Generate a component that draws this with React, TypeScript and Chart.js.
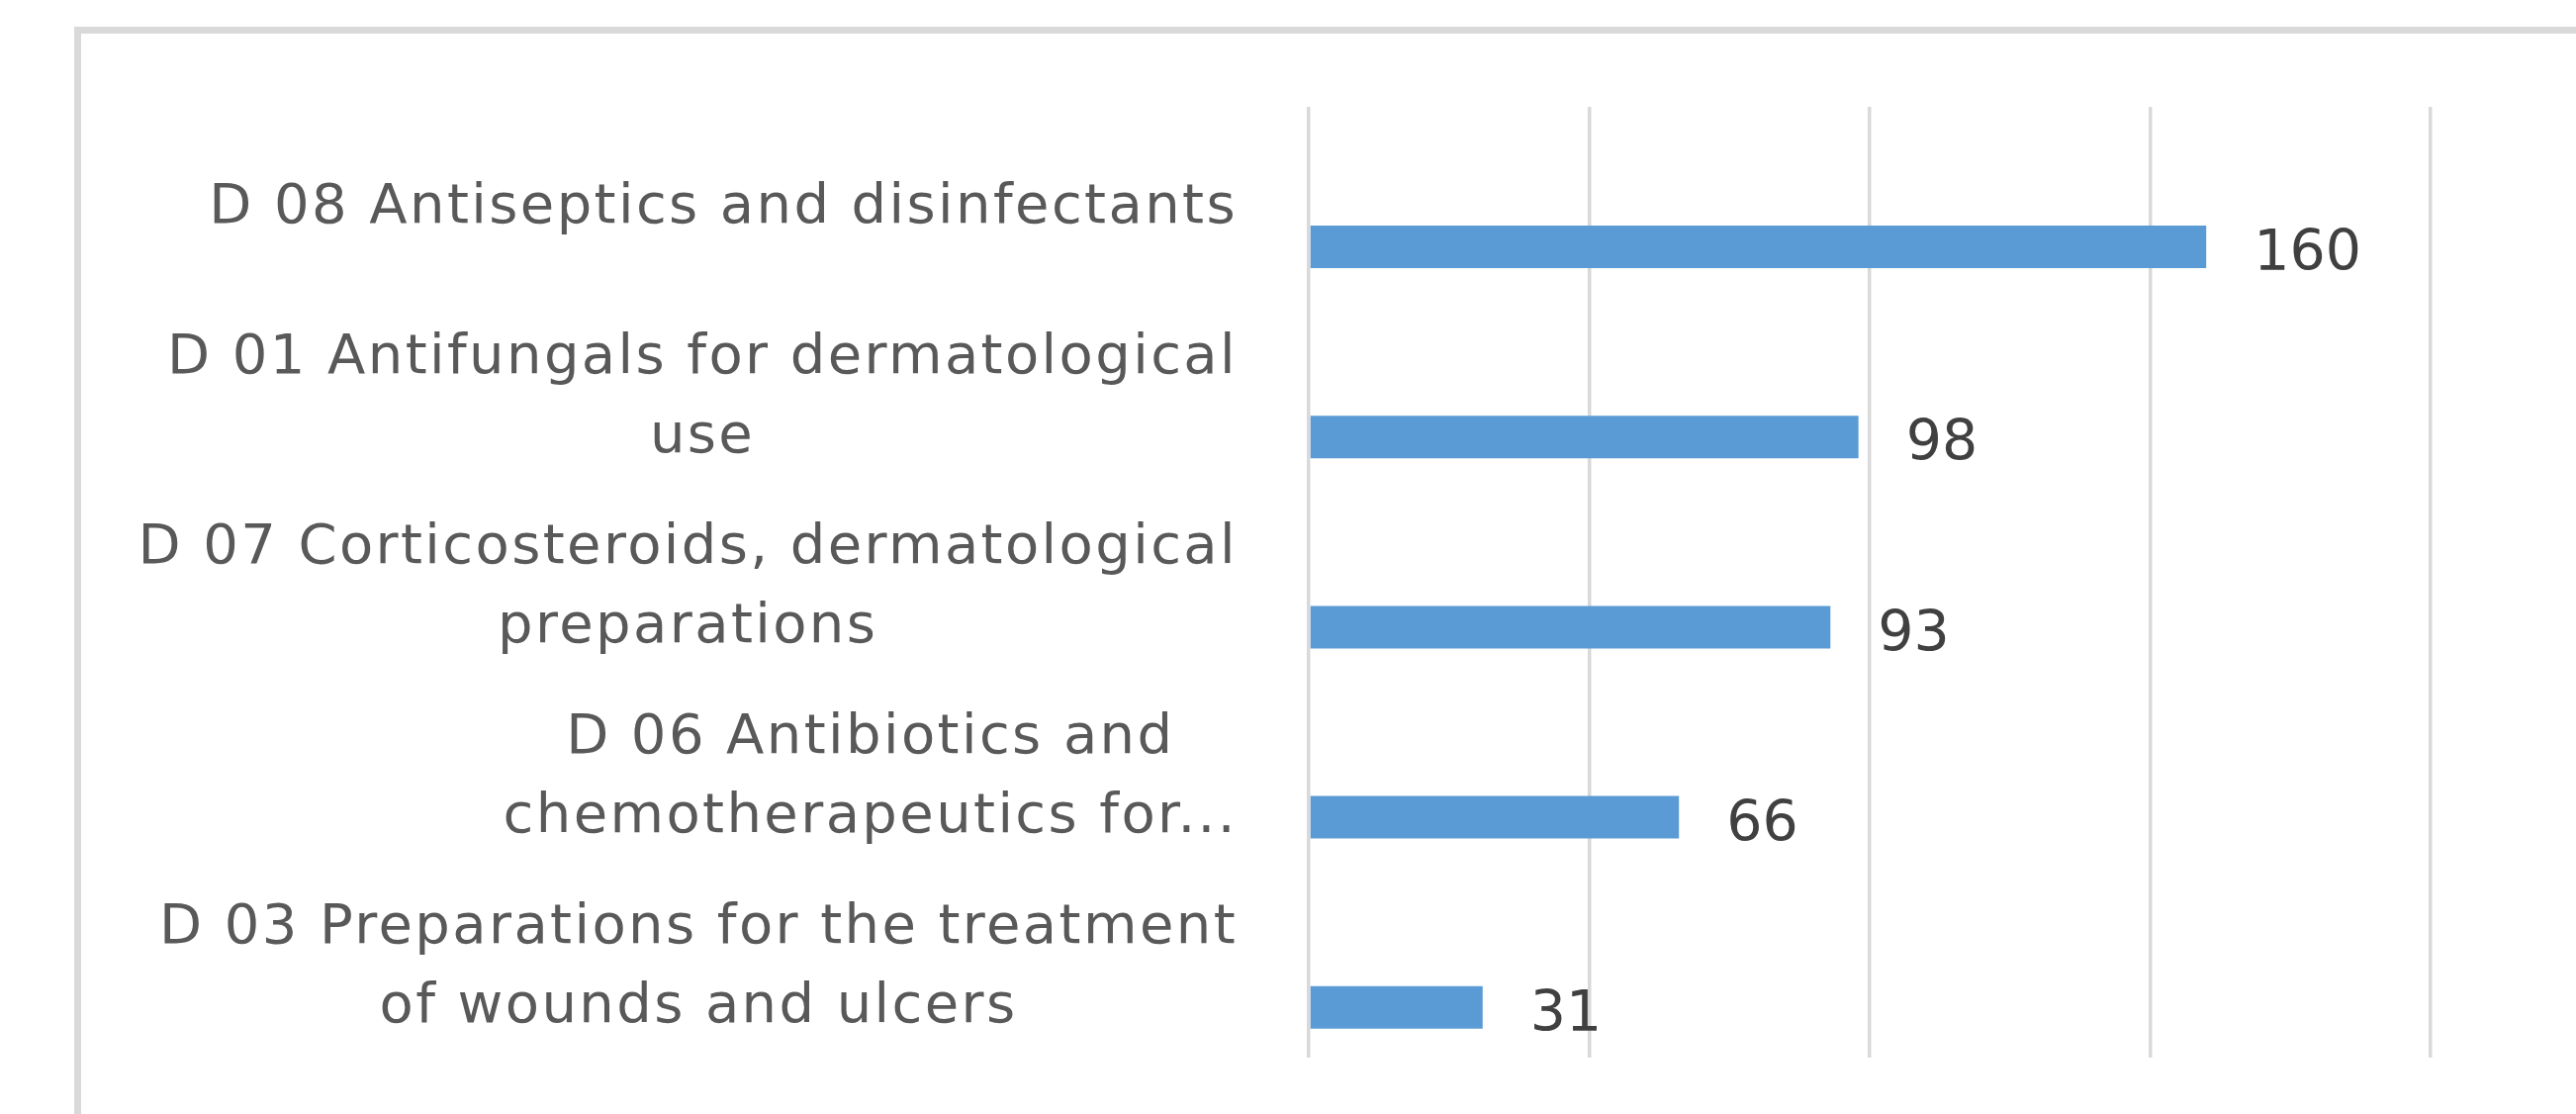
import React, { useEffect, useRef } from "react";
import { Chart, registerables } from "chart.js";

Chart.register(...registerables);

// ---- data ----
const categories: (string | string[])[] = [
  "D 08 Antiseptics and disinfectants",
  ["D 01 Antifungals for dermatological", "use"],
  ["D 07 Corticosteroids, dermatological", "preparations"],
  ["D 06 Antibiotics and", "chemotherapeutics for..."],
  ["D 03 Preparations for the treatment", "of wounds and ulcers"],
];
const values = [160, 98, 93, 66, 31];
const emptySeries = [null, null, null, null, null];
const xMin = 0;
const xMax = 200;
const xStep = 50;

// ---- styles ----
const BAR_COLOR = "#5b9bd5";
const GRID_COLOR = "#d9d9d9";
const LABEL_COLOR = "#595959";
const VALUE_COLOR = "#404040";
const LABEL_FONT_SIZE = 56;
const LABEL_FONT = `${LABEL_FONT_SIZE}px "DejaVu Sans"`;
const LABEL_CAP = 0.729;
const LABEL_LETTER_SPACING = "2.4px";
const LABEL_LINE_HEIGHT = 80;
const LABEL_GAP = 72;
const VALUE_FONT_SIZE = 57;
const VALUE_FONT = `${VALUE_FONT_SIZE}px "DejaVu Sans"`;
const VALUE_CAP = 0.729;
const VALUE_GAP = 48;

const categoryLabelPlugin = {
  id: "categoryLabels",
  afterDraw(chart: any) {
    const ctx = chart.ctx as CanvasRenderingContext2D;
    const yScale = chart.scales.y;
    const right = chart.chartArea.left - LABEL_GAP;
    ctx.save();
    ctx.font = LABEL_FONT;
    (ctx as any).letterSpacing = LABEL_LETTER_SPACING;
    ctx.fillStyle = LABEL_COLOR;
    ctx.textAlign = "center";
    ctx.textBaseline = "alphabetic";
    const labels = chart.data.labels as (string | string[])[];
    labels.forEach((lab, i) => {
      const lines = Array.isArray(lab) ? lab : [lab];
      const widths = lines.map((l) => ctx.measureText(l).width);
      const blockW = Math.max(...widths);
      const cx = right - blockW / 2;
      const yc = yScale.getPixelForTick(i);
      const n = lines.length;
      const cap = LABEL_FONT_SIZE * LABEL_CAP;
      lines.forEach((l, k) => {
        const offset = (k - (n - 1) / 2) * LABEL_LINE_HEIGHT;
        ctx.fillText(l, cx, yc + offset + cap / 2);
      });
    });
    ctx.restore();
  },
};

const valueLabelPlugin = {
  id: "valueLabels",
  afterDatasetsDraw(chart: any) {
    const ctx = chart.ctx as CanvasRenderingContext2D;
    const meta = chart.getDatasetMeta(1);
    const data = chart.data.datasets[1].data;
    ctx.save();
    ctx.font = VALUE_FONT;
    ctx.fillStyle = VALUE_COLOR;
    ctx.textAlign = "left";
    ctx.textBaseline = "alphabetic";
    const cap = VALUE_FONT_SIZE * VALUE_CAP;
    meta.data.forEach((bar: any, i: number) => {
      ctx.fillText(String(data[i]), bar.x + VALUE_GAP, bar.y + 3 + cap / 2);
    });
    ctx.restore();
  },
};

export default function App() {
  const ref = useRef<HTMLCanvasElement | null>(null);

  useEffect(() => {
    if (!ref.current) return;
    const chart = new Chart(ref.current, {
      type: "bar",
      data: {
        labels: categories as any,
        datasets: [
          {
            label: "",
            data: emptySeries as any,
            backgroundColor: BAR_COLOR,
          },
          {
            label: "Count",
            data: values,
            backgroundColor: BAR_COLOR,
            borderWidth: 0,
          },
        ],
      },
      options: {
        indexAxis: "y",
        responsive: false,
        animation: false,
        devicePixelRatio: 1,
        categoryPercentage: 0.945,
        barPercentage: 0.4735,
        layout: {
          padding: { left: 1323, right: 147, top: 108, bottom: 57 },
        },
        plugins: {
          legend: { display: false },
          tooltip: { enabled: false },
          title: { display: false },
        },
        scales: {
          x: {
            type: "linear",
            min: xMin,
            max: xMax,
            ticks: { display: false, stepSize: xStep },
            grid: {
              color: GRID_COLOR,
              lineWidth: 3.5,
              drawTicks: false,
            },
            border: { display: false },
          },
          y: {
            type: "category",
            display: false,
            offset: true,
            grid: { display: false },
          },
        },
      } as any,
      plugins: [categoryLabelPlugin, valueLabelPlugin],
    });
    return () => chart.destroy();
  }, []);

  return (
    <div
      style={{
        position: "fixed",
        left: 0,
        top: 0,
        width: 2604,
        height: 1126,
        background: "#ffffff",
        overflow: "hidden",
      }}
    >
      <div
        style={{
          position: "absolute",
          left: 75,
          top: 27,
          width: 2800,
          height: 1400,
          borderLeft: `7px solid ${GRID_COLOR}`,
          borderTop: `7px solid ${GRID_COLOR}`,
          boxSizing: "border-box",
        }}
      />
      <canvas
        ref={ref}
        width={2604}
        height={1126}
        style={{ position: "absolute", left: 0, top: 0, width: 2604, height: 1126 }}
      />
    </div>
  );
}
